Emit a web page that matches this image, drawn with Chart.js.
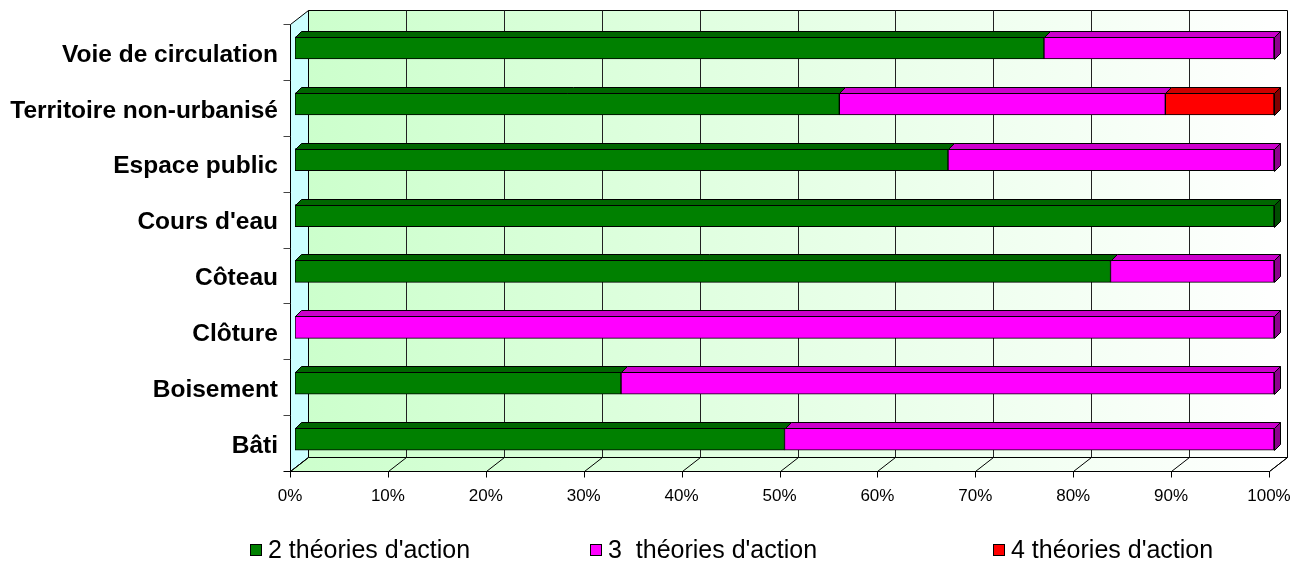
<!DOCTYPE html>
<html>
<head>
<meta charset="utf-8">
<script src="https://cdn.jsdelivr.net/npm/chart.js@4/dist/chart.umd.min.js"></script>
<style>
    html, body { margin: 0; padding: 0; background: #fff; }
    #wrap { width: 1305px; height: 566px; }
</style>
</head>
<body>
<div id="wrap"><canvas id="chart" width="1305" height="566"></canvas></div>
<script>
// Données (en % de chaque catégorie)
const categories = ['Voie de circulation', 'Territoire non-urbanisé', 'Espace public', "Cours d'eau",
    'Côteau', 'Clôture', 'Boisement', 'Bâti'];
const seriesNames = ["2 théories d'action", "3  théories d'action", "4 théories d'action"];
const deuxTheories = [76.5, 55.6, 66.7, 100, 83.3, 0, 33.3, 50];
const troisTheories = [23.5, 33.3, 33.3, 0, 16.7, 100, 66.7, 50];
const quatreTheories = [0, 11.1, 0, 0, 0, 0, 0, 0];
const xTicks = [0, 10, 20, 30, 40, 50, 60, 70, 80, 90, 100];

// couleurs : face avant, dessus, côté
const faces = [
    { front: '#008000', top: '#006600', side: '#004d00' },
    { front: '#ff00ff', top: '#cc00cc', side: '#8c008c' },
    { front: '#ff0000', top: '#cc0000', side: '#800000' }
];

// décalages de la perspective (style Excel 3D)
const FRONT = { x: -5, y: 4 };   // plan des axes
const BACK = { x: 13, y: -10 };  // paroi du fond
const DEPTH = { x: 6, y: -6 };   // épaisseur des barres

// légende
const LEGEND_X = [250, 590, 993];
const LEGEND_Y = 550;
const FONT = 'Arial, "Liberation Sans", sans-serif';

function poly(ctx, pts, fill, stroke) {
    ctx.beginPath();
    ctx.moveTo(pts[0][0], pts[0][1]);
    for (let i = 1; i < pts.length; i++) ctx.lineTo(pts[i][0], pts[i][1]);
    ctx.closePath();
    if (fill) { ctx.fillStyle = fill; ctx.fill(); }
    if (stroke) { ctx.strokeStyle = stroke; ctx.lineWidth = 1; ctx.stroke(); }
}

function line(ctx, x1, y1, x2, y2, color) {
    ctx.beginPath();
    ctx.moveTo(x1, y1);
    ctx.lineTo(x2, y2);
    ctx.strokeStyle = color || '#000';
    ctx.lineWidth = 1;
    ctx.stroke();
}

const excel3d = {
    id: 'excel3d',
    beforeDatasetsDraw(chart) {
        const ctx = chart.ctx;
        const xs = chart.scales.x;
        const { top, bottom } = chart.chartArea;
        const x0 = Math.round(xs.getPixelForValue(0)) + 0.5;
        const x100 = Math.round(xs.getPixelForValue(100)) + 0.5;
        const t = Math.round(top) + 0.5, b = Math.round(bottom) + 0.5;
        ctx.save();

        // paroi du fond
        const grad = ctx.createLinearGradient(x0 + BACK.x, 0, x100 + BACK.x, 0);
        grad.addColorStop(0, '#ccffcc');
        grad.addColorStop(1, '#ffffff');
        poly(ctx, [[x0 + BACK.x, t + BACK.y], [x100 + BACK.x, t + BACK.y],
            [x100 + BACK.x, b + BACK.y], [x0 + BACK.x, b + BACK.y]], grad, '#000');

        // paroi latérale
        poly(ctx, [[x0 + FRONT.x, t + FRONT.y], [x0 + BACK.x, t + BACK.y],
            [x0 + BACK.x, b + BACK.y], [x0 + FRONT.x, b + FRONT.y]], '#ccffff', '#000');

        // sol
        const gradF = ctx.createLinearGradient(x0 + FRONT.x, 0, x100 + BACK.x, 0);
        gradF.addColorStop(0, '#ccffcc');
        gradF.addColorStop(1, '#ffffff');
        poly(ctx, [[x0 + FRONT.x, b + FRONT.y], [x0 + BACK.x, b + BACK.y],
            [x100 + BACK.x, b + BACK.y], [x100 + FRONT.x, b + FRONT.y]], gradF, '#000');

        // quadrillage
        xTicks.forEach(v => {
            const px = Math.round(xs.getPixelForValue(v)) + 0.5;
            if (v > 0 && v < 100) line(ctx, px + BACK.x, t + BACK.y, px + BACK.x, b + BACK.y, '#222');
            line(ctx, px + FRONT.x, b + FRONT.y, px + BACK.x, b + BACK.y, '#000');
            line(ctx, px + FRONT.x, b + FRONT.y, px + FRONT.x, b + FRONT.y + 6, '#000');
        });

        // axes avant
        line(ctx, x0 + FRONT.x, t + FRONT.y, x0 + FRONT.x, b + FRONT.y, '#000');
        line(ctx, x0 + FRONT.x - 7, b + FRONT.y, x100 + FRONT.x, b + FRONT.y, '#000');
        const band = (bottom - top) / categories.length;
        for (let i = 0; i < categories.length; i++) {
            const py = Math.round(top + i * band) + 0.5 + FRONT.y;
            line(ctx, x0 + FRONT.x - 7, py, x0 + FRONT.x, py, '#444');
        }
        ctx.restore();
    },
    afterDatasetsDraw(chart) {
        const ctx = chart.ctx;
        const n = chart.data.labels.length;
        ctx.save();
        for (let i = 0; i < n; i++) {
            let last = -1;
            chart.data.datasets.forEach((ds, d) => { if (ds.data[i] > 0) last = d; });
            chart.data.datasets.forEach((ds, d) => {
                if (!(ds.data[i] > 0)) return;
                const el = chart.getDatasetMeta(d).data[i];
                const p = el.getProps(['x', 'y', 'base', 'height'], true);
                const xl = Math.round(p.base) + 0.5, xr = Math.round(p.x) + 0.5;
                const yt = Math.round(p.y - p.height / 2) + 0.5;
                const yb = Math.round(p.y + p.height / 2) + 0.5;
                poly(ctx, [[xl, yt], [xl + DEPTH.x, yt + DEPTH.y], [xr + DEPTH.x, yt + DEPTH.y], [xr, yt]],
                    faces[d].top, '#000');
                if (d === last) {
                    poly(ctx, [[xr, yt], [xr + DEPTH.x, yt + DEPTH.y], [xr + DEPTH.x, yb + DEPTH.y], [xr, yb]],
                        faces[d].side, '#000');
                }
            });
        }
        ctx.restore();
    },
    afterDraw(chart) {
        // légende façon Excel (colonnes espacées)
        const ctx = chart.ctx;
        ctx.save();
        ctx.font = '25px ' + FONT;
        ctx.textBaseline = 'middle';
        ctx.textAlign = 'left';
        chart.data.datasets.forEach((ds, d) => {
            const x = LEGEND_X[d];
            ctx.fillStyle = ds.backgroundColor;
            ctx.fillRect(x + 0.5, LEGEND_Y - 6 + 0.5, 11, 11);
            ctx.strokeStyle = '#000';
            ctx.lineWidth = 1;
            ctx.strokeRect(x + 0.5, LEGEND_Y - 6 + 0.5, 11, 11);
            ctx.fillStyle = '#000';
            ctx.fillText(ds.label, x + 18, LEGEND_Y + 1);
        });
        ctx.restore();
    }
};

const seriesData = [deuxTheories, troisTheories, quatreTheories];

new Chart(document.getElementById('chart'), {
    type: 'bar',
    data: {
        labels: categories,
        datasets: seriesData.map((vals, d) => ({
            label: seriesNames[d],
            data: vals,
            backgroundColor: faces[d].front,
            borderColor: '#000',
            borderWidth: 1,
            borderSkipped: false,
            barThickness: 22
        }))
    },
    options: {
        indexAxis: 'y',
        responsive: false,
        animation: false,
        devicePixelRatio: 1,
        layout: { padding: { top: 20, right: 31, bottom: 36, left: 0 } },
        plugins: {
            tooltip: { enabled: false },
            legend: { display: false }
        },
        scales: {
            x: {
                stacked: true,
                min: 0,
                max: 100,
                grid: { display: false },
                border: { display: false },
                afterBuildTicks: s => { s.ticks = xTicks.map(v => ({ value: v })); },
                afterFit: s => { s.height = 63; s.paddingLeft = 0; s.paddingRight = 0; },
                ticks: {
                    padding: 11,
                    labelOffset: -5,
                    maxRotation: 0,
                    color: '#000',
                    font: { family: FONT, size: 17 },
                    callback: v => v + '%'
                }
            },
            y: {
                stacked: true,
                grid: { display: false },
                border: { display: false },
                afterFit: s => { s.width = 295; s.paddingTop = 0; s.paddingBottom = 0; },
                ticks: {
                    padding: 9,
                    labelOffset: 7,
                    color: '#000',
                    font: { family: FONT, size: 24.5, weight: 'bold' }
                }
            }
        }
    },
    plugins: [excel3d]
});
</script>
</body>
</html>
